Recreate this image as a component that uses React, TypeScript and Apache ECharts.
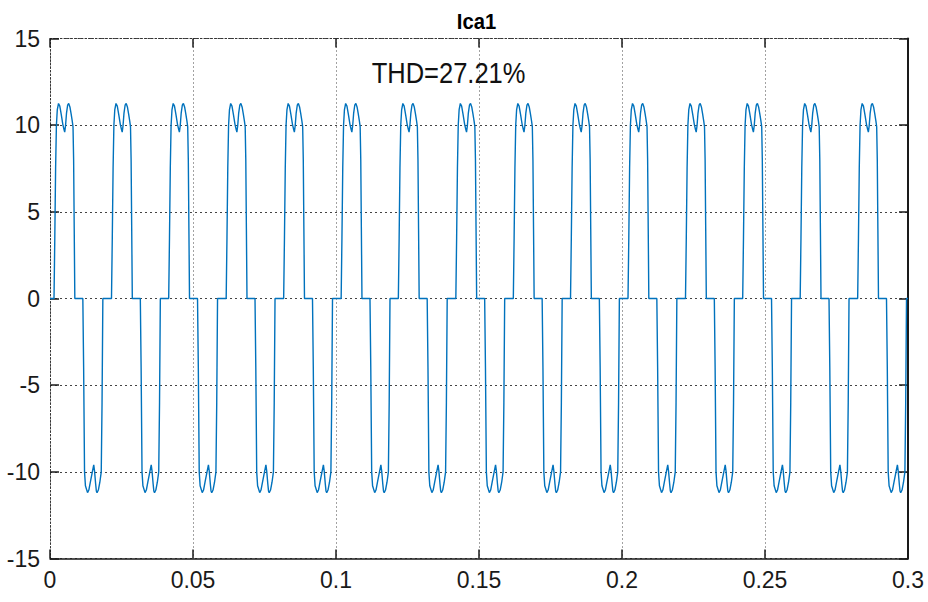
import React, { useEffect, useRef } from 'react';
import * as echarts from 'echarts';

// Tick labels
const xTickLabels = ['0', '0.05', '0.1', '0.15', '0.2', '0.25', '0.3'];
const yTickLabels = ['-15', '-10', '-5', '0', '5', '10', '15'];

// Start time (s) of each cycle's positive current pulse
const cycleStarts = [
  0.0014, 0.0215, 0.0415, 0.0616, 0.0817, 0.1018, 0.1218, 0.1419,
  0.162, 0.182, 0.2021, 0.2222, 0.2422, 0.2623, 0.2824,
];

// Positive pulse shape: time after pulse start (s) and current (A)
const posPulseDt = [
  0, 0.00028, 0.00056, 0.00084, 0.001155, 0.001575, 0.00203, 0.002555, 0.00308,
  0.0035, 0.003745, 0.004025, 0.004375, 0.00476, 0.005145, 0.005565, 0.005985,
  0.00637, 0.00665, 0.00686, 0.00707, 0.00728,
];
const posPulseVal = [
  0, 3.5, 7.5, 10, 10.9, 11.25, 11.1, 10.6, 10.05,
  9.75, 9.6, 9.95, 10.7, 11.15, 11.25, 11.05, 10.65,
  10.25, 9.9, 8.0, 4.0, 0,
];

// Negative pulse: delay after the positive pulse start (s), shape
const negPulseOffset = 0.01008;
const negPulseDt = [
  0, 0.00028, 0.000595, 0.00091, 0.001645, 0.0021, 0.002625, 0.003325, 0.003815,
  0.004095, 0.00448, 0.004725, 0.00497, 0.005425, 0.00595, 0.00644, 0.00672,
  0.00693, 0.007,
];
const negPulseVal = [
  0, -4, -10, -10.8, -11.2, -11.05, -10.6, -10.0, -9.6,
  -9.95, -10.7, -11.1, -11.2, -11.05, -10.6, -10.0, -6,
  -1.5, 0,
];

const titleText = 'Ica1';
const thdText = 'THD=27.21%';
const tEnd = 0.3;

function buildSeries(): number[][] {
  const pts: number[][] = [[0, 0]];
  for (const s of cycleStarts) {
    posPulseDt.forEach((d, i) => pts.push([s + d, posPulseVal[i]]));
    negPulseDt.forEach((d, i) => pts.push([s + negPulseOffset + d, negPulseVal[i]]));
  }
  pts.push([tEnd, 0]);
  return pts;
}

const FONT = '"Liberation Sans", Arial, Helvetica, sans-serif';
const INK = '#1a1a1a';

export default function App() {
  const ref = useRef<HTMLDivElement>(null);
  useEffect(() => {
    if (!ref.current) return;
    const chart = echarts.init(ref.current, undefined, { renderer: 'svg' });
    const option: any = {
      animation: false,
      backgroundColor: '#ffffff',
      grid: { left: 50, right: 20, top: 38.5, bottom: 43.5, containLabel: false },
      xAxis: [
        {
          type: 'value', min: 0, max: 0.3, interval: 0.05, position: 'bottom',
          axisLine: { show: true, onZero: false, lineStyle: { color: INK, width: 1.5 } },
          axisTick: { show: true, inside: true, length: 9, lineStyle: { color: INK, width: 1.5 } },
          axisLabel: {
            formatter: (_v: number, i: number) => xTickLabels[i],
            fontFamily: FONT, fontSize: 23, color: INK, margin: 10,
          },
          splitLine: { show: true, lineStyle: { color: '#444', type: [1, 3], width: 1 } },
        },
        {
          type: 'value', min: 0, max: 0.3, interval: 0.05, position: 'top',
          axisLine: { show: true, onZero: false, lineStyle: { color: '#333', type: [1.5, 2], width: 1 } },
          axisTick: { show: true, inside: true, length: 9, lineStyle: { color: INK, width: 1.5 } },
          axisLabel: { show: false },
          splitLine: { show: false },
        },
      ],
      yAxis: [
        {
          type: 'value', min: -15, max: 15, interval: 5, position: 'left',
          axisLine: { show: true, onZero: false, lineStyle: { color: '#333', type: [1.5, 2], width: 1 } },
          axisTick: { show: true, inside: true, length: 9, lineStyle: { color: INK, width: 1.5 } },
          axisLabel: {
            formatter: (_v: number, i: number) => yTickLabels[i],
            fontFamily: FONT, fontSize: 23, color: INK, margin: 10,
          },
          splitLine: { show: true, lineStyle: { color: '#444', type: [2, 3], width: 1 } },
        },
        {
          type: 'value', min: -15, max: 15, interval: 5, position: 'right',
          axisLine: { show: true, onZero: false, lineStyle: { color: INK, width: 2 } },
          axisTick: { show: true, inside: true, length: 9, lineStyle: { color: INK, width: 1.5 } },
          axisLabel: { show: false },
          splitLine: { show: false },
        },
      ],
      series: [
        {
          type: 'line',
          xAxisIndex: 0,
          yAxisIndex: 0,
          data: buildSeries(),
          showSymbol: false,
          symbol: 'none',
          silent: true,
          lineStyle: { color: '#0072BD', width: 1.4 },
        },
      ],
      graphic: [
        {
          type: 'text', x: 476.5, y: 21.6, scaleX: 0.92, silent: true,
          style: {
            text: titleText, font: `bold 22px ${FONT}`, fill: '#000',
            textAlign: 'center', textVerticalAlign: 'middle',
          },
        },
        {
          type: 'text', x: 371.7, y: 72.5, scaleX: 0.85, silent: true,
          style: {
            text: thdText, font: `30px ${FONT}`, fill: '#111',
            textAlign: 'left', textVerticalAlign: 'middle',
          },
        },
      ],
    };
    chart.setOption(option);
    return () => chart.dispose();
  }, []);
  return (
    <div
      ref={ref}
      style={{ position: 'absolute', left: 0, top: 0, width: 928, height: 602, background: '#fff' }}
    />
  );
}
